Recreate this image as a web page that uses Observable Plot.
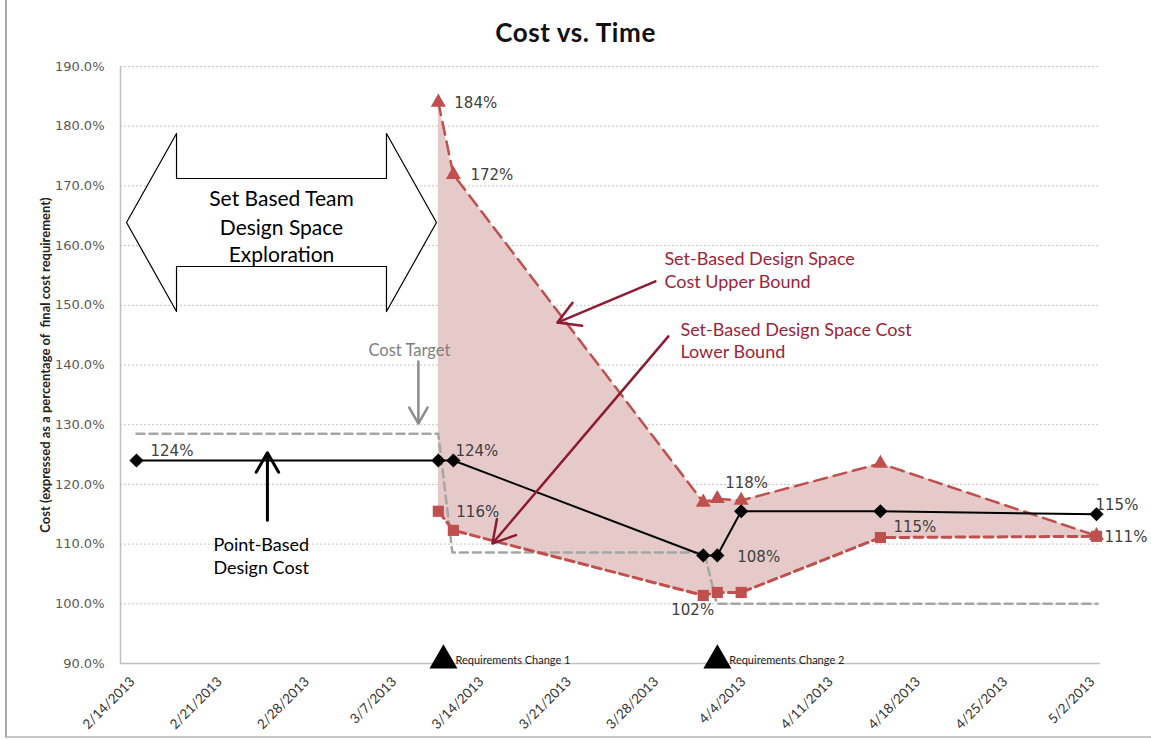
<!DOCTYPE html>
<html><head><meta charset="utf-8">
<script src="https://cdn.jsdelivr.net/npm/d3@7"></script>
<script src="https://cdn.jsdelivr.net/npm/@observablehq/plot@0.6"></script>
<style>
body{margin:0;background:#fff;}
#wrap{position:relative;width:1151px;height:740px;overflow:hidden;background:#fff;}
#frame{position:absolute;left:5px;top:-3px;width:1160px;height:741px;border-left:2px solid #a8a8a8;border-bottom:2px solid #c8c8c8;box-sizing:border-box;}
#title{position:absolute;left:0;top:17px;width:1151px;text-align:center;font:bold 26px Lato,sans-serif;letter-spacing:0.6px;color:#111;line-height:30px;}
#chart{position:absolute;left:0;top:48px;}
#chart g[aria-label="y-axis tick label"] text{font-family:"DejaVu Sans",sans-serif;font-size:13px;fill:#595959;}
#chart g[aria-label="x-axis tick label"] text{font-family:Lato,sans-serif;font-size:13.5px;fill:#333;}
#chart g[aria-label="y-axis label"] text{font-family:Lato,sans-serif;font-size:13px;font-weight:bold;fill:#222;}
</style></head>
<body>
<div id="wrap"><div id="frame"></div><div id="title">Cost vs. Time</div><div id="chart"></div></div>
<script>
// ---- data ----
const xTickDates = ["2013-02-14","2013-02-21","2013-02-28","2013-03-07","2013-03-14","2013-03-21","2013-03-28","2013-04-04","2013-04-11","2013-04-18","2013-04-25","2013-05-02"];
const yTicks = [90,100,110,120,130,140,150,160,170,180,190];
const dates = ["2013-02-14T00:00Z","2013-03-10T05:00Z","2013-03-11T10:00Z","2013-03-31T11:00Z","2013-04-01T14:00Z","2013-04-03T12:00Z","2013-04-14T16:00Z","2013-05-02T00:00Z"];
const pointBased = [124.0,124.0,124.0,108.1,108.1,115.5,115.5,115.0];
const upperBound = [null,184.0,171.9,117.0,117.6,117.3,123.5,111.4];
const lowerBound = [null,115.5,112.3,101.4,101.9,101.9,111.1,111.3];
const costTargetDates = ["2013-02-14T00:00Z","2013-03-10T05:00Z","2013-03-11T08:00Z","2013-03-31T13:00Z","2013-04-01T13:00Z","2013-05-02T02:00Z"];
const costTarget = [128.5,128.5,108.6,108.6,100.0,100.0];
const labelSeries = ["point","point","upper","upper","lower","upper","point","lower","point","point","lower"];
const labelIndex  = [0,2,1,2,1,5,4,4,6,7,7];
const labelText   = ["124%","124%","184%","172%","116%","118%","108%","102%","115%","115%","111%"];
const reqChangeDays = [24.62, 46.59];
const reqChangeText = ["Requirements Change 1","Requirements Change 2"];
const yTitle = "Cost (expressed as a percentage of  final cost requirement)";

// ---- helpers / styles ----
const base = Date.UTC(2013,1,14);
const day = n => new Date(base + n*864e5);
const xDomain = [day(-1.2833), day(77.3208)];
const labelOffsets = [[14,-9],[2,-9],[16,1],[17,1],[18,1],[-16,-17],[20,2],[-46,18],[13,16],[-1,-9],[8,1]];
const RED = "#c0504d", DARKRED = "#8c1c33", ANN = "#9c2438";

const rows = dates.map((d,i)=>({date:new Date(d), point:pointBased[i], upper:upperBound[i], lower:lowerBound[i]}));
const band = rows.filter(r=>r.upper!=null);
const costRows = costTargetDates.map((d,i)=>({date:new Date(d), value:costTarget[i]}));

// block double arrow outline (annotation, in data coordinates: day offset, percent)
const blockPts = [[-0.80,163.87],[3.21,178.78],[3.21,171.24],[20.05,171.24],[20.05,178.78],[24.06,163.87],[20.05,148.96],[20.05,156.50],[3.21,156.50],[3.21,148.96],[-0.80,163.87]].map(([d,v])=>({x:day(d),y:v}));

const labelMarks = labelText.map((t,k)=>{
  const r = rows[labelIndex[k]];
  return Plot.text([{x:r.date, y:r[labelSeries[k]], t}], {x:"x", y:"y", text:"t", textAnchor:"start",
    dx:labelOffsets[k][0], dy:labelOffsets[k][1], fontSize:15, fontFamily:"DejaVu Sans", fill:"#404040"});
});

const txt = (items, opts) => Plot.text(items.map(([d,v,t])=>({x:day(d),y:v,t})), {x:"x", y:"y", text:"t", fontFamily:"Lato", ...opts});
const arr = (items, opts) => Plot.arrow(items.map(([a,b,c,e])=>({x1:day(a),y1:b,x2:day(c),y2:e})), {x1:"x1",y1:"y1",x2:"x2",y2:"y2", ...opts});

const chart = Plot.plot({
  width: 1151, height: 692,
  marginLeft: 120, marginRight: 51, marginTop: 18, marginBottom: 77,
  x: {type:"utc", domain: xDomain},
  y: {domain: [90,190]},
  marks: [
    Plot.gridY(yTicks.filter(v=>v>90), {stroke:"#c4c4c4", strokeOpacity:1, strokeDasharray:"2,2"}),
    Plot.ruleY([90], {stroke:"#bfbfbf", strokeWidth:1.5}),
    Plot.ruleX([xDomain[0]], {stroke:"#bfbfbf", strokeWidth:1.5}),
    Plot.areaY(band, {x:"date", y1:"lower", y2:"upper", fill:"#e6caca"}),
    Plot.line(costRows, {x:"date", y:"value", stroke:"#a6a6a6", strokeWidth:2.5, strokeDasharray:"8,5"}),
    Plot.line(band, {x:"date", y:"upper", stroke:RED, strokeWidth:2.5, strokeDasharray:"13,7"}),
    Plot.line(band, {x:"date", y:"lower", stroke:RED, strokeWidth:3, strokeDasharray:"9,5"}),
    Plot.line(rows, {x:"date", y:"point", stroke:"#000", strokeWidth:2}),
    Plot.dot(band, {x:"date", y:"upper", symbol:"triangle", r:5.6, fill:RED}),
    Plot.dot(band, {x:"date", y:"lower", symbol:"square", r:6.3, fill:RED}),
    Plot.dot(rows, {x:"date", y:"point", symbol:"diamond2", r:6.4, fill:"#000"}),
    ...labelMarks,
    // annotations
    Plot.line(blockPts, {x:"x", y:"y", fill:"white", stroke:"#000", strokeWidth:1.2}),
    txt([[11.63,167.7,"Set Based Team"],[11.63,162.9,"Design Space"],[11.63,158.3,"Exploration"]], {fontSize:21, fill:"#000"}),
    txt([[21.89,142.4,"Cost Target"]], {fontSize:16.5, fill:"#7f7f7f"}),
    arr([[22.61,140.6,22.61,130.2]], {stroke:"#8c8c8c", strokeWidth:2.5, headLength:11}),
    txt([[42.34,157.7,"Set-Based Design Space"],[42.34,153.8,"Cost Upper Bound"],[43.63,145.9,"Set-Based Design Space Cost"],[43.63,142.1,"Lower Bound"]], {fontSize:18, fill:ANN, textAnchor:"start"}),
    arr([[41.62,154.0,33.76,147.1],[42.66,144.8,28.55,110.1]], {stroke:DARKRED, strokeWidth:2.5, headLength:15}),
    txt([[6.17,109.8,"Point-Based"],[6.17,105.9,"Design Cost"]], {fontSize:18, fill:"#000", textAnchor:"start"}),
    arr([[10.5,114.0,10.5,125.3]], {stroke:"#000", strokeWidth:3, headLength:12}),
    Plot.dot(reqChangeDays.map(d=>({x:day(d)})), {x:"x", y:()=>90.5, symbol:"triangle", r:10.4, fill:"#000"}),
    Plot.text(reqChangeDays.map((d,i)=>({x:day(d), t:reqChangeText[i]})), {x:"x", y:()=>90.5, text:"t", textAnchor:"start", dx:12, fontSize:11, fontFamily:"Lato", fill:"#222"}),
    Plot.axisY({ticks: yTicks, tickFormat: d=>d.toFixed(1)+"%", tickSize:0, tickPadding:16, label: yTitle, labelAnchor:"center", labelArrow:"none", labelOffset:80}),
    Plot.axisX({ticks: xTickDates.map(d=>new Date(d)), tickFormat: d3.utcFormat("%-m/%-d/%Y"), tickRotate:-45, tickSize:0, tickPadding:16, dx:-4, label:null})
  ]
});
document.getElementById("chart").appendChild(chart);
</script>
</body></html>
